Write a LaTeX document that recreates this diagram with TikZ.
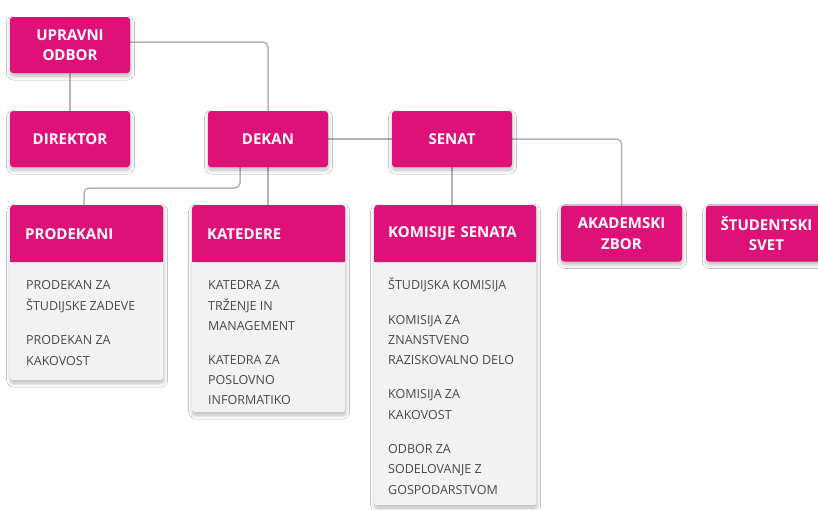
\documentclass[tikz,border=0pt]{standalone}
\usepackage{fontspec}
\setmainfont{Open Sans}
\usetikzlibrary{shadows.blur,backgrounds,calc}
\definecolor{mag}{RGB}{222,17,121}
\definecolor{panel}{RGB}{242,242,242}
\definecolor{connc}{RGB}{180,180,180}
\definecolor{bodytxt}{RGB}{72,72,72}
\newcommand{\firststrut}{\rule{0pt}{15pt}}
\begin{document}
\begin{tikzpicture}[x=1pt,y=-1pt,
  shad/.style={blur shadow={shadow xshift=0.5pt,shadow yshift=-3pt,shadow blur radius=4pt,shadow blur steps=8,shadow opacity=28}},
  unitbox/.style={fill=mag, rounded corners=3pt, text=white,
    font=\fontsize{15}{20.5}\selectfont\bfseries, align=center,
    inner sep=0pt, minimum width=120pt, minimum height=56pt, shad},
  panelbody/.style={fill=panel, rounded corners=3pt, inner sep=0pt, anchor=north west, shad},
  panelhead/.style={fill=mag, rounded corners=3pt, text=white,
    font=\fontsize{15}{20.5}\selectfont\bfseries, align=left,
    inner xsep=15pt, inner ysep=0pt, minimum height=57pt, anchor=north west},
  bodytext/.style={text=bodytxt, font=\fontsize{12.5}{20.3}\selectfont,
    align=left, inner sep=0pt, anchor=north west},
  connector/.style={draw=connc, line width=1.5pt, rounded corners=5pt}
]
\useasboundingbox (0,0) rectangle (818,509);

% top units
\node[unitbox] (odbor) at (70,45) {UPRAVNI\\ODBOR};
\node[unitbox] (direktor) at (70,139) {DIREKTOR};
\node[unitbox] (dekan) at (268,139) {DEKAN};
\node[unitbox] (senat) at (452,139) {SENAT};
\node[unitbox, minimum width=121pt] (akad) at (621.5,233.5) {AKADEMSKI\\ZBOR};
\node[unitbox, minimum width=121pt] (stud) at (766.5,233.5) {ŠTUDENTSKI\\SVET};

% PRODEKANI panel
\node[panelbody, minimum width=153pt, minimum height=175pt] (prodp) at (10,205) {};
\node[panelhead, text width=123pt] (prodh) at (10,205) {PRODEKANI};
\fill[mag] ([yshift=4pt]prodh.south west) rectangle (prodh.south east);
\node[bodytext] (prodt) at (26,274.5)
  {\firststrut PRODEKAN ZA\\ŠTUDIJSKE ZADEVE\\[14.5pt]PRODEKAN ZA\\KAKOVOST};

% KATEDERE panel
\node[panelbody, minimum width=153pt, minimum height=207pt] (katp) at (192,205) {};
\node[panelhead, text width=123pt] (kath) at (192,205) {KATEDERE};
\fill[mag] ([yshift=4pt]kath.south west) rectangle (kath.south east);
\node[bodytext] (katt) at (208,274.5)
  {\firststrut KATEDRA ZA\\TRŽENJE IN\\MANAGEMENT\\[13.5pt]KATEDRA ZA\\POSLOVNO\\INFORMATIKO};

% KOMISIJE SENATA panel
\node[panelbody, minimum width=162pt, minimum height=300pt] (komp) at (374,205) {};
\node[panelhead, inner xsep=14pt, text width=134pt] (komh) at (374,205) {KOMISIJE SENATA};
\fill[mag] ([yshift=4pt]komh.south west) rectangle (komh.south east);
\node[bodytext] (komt) at (388,274.5)
  {\firststrut ŠTUDIJSKA KOMISIJA\\[14pt]KOMISIJA ZA\\ZNANSTVENO\\RAZISKOVALNO DELO\\[14pt]KOMISIJA ZA\\KAKOVOST\\[14pt]ODBOR ZA\\SODELOVANJE Z\\GOSPODARSTVOM};

% connectors
\coordinate (pk) at (84,188);
\begin{scope}[on background layer]
  \fill[white] (0,0) rectangle (818,509);
  \draw[connector] ([yshift=3pt]odbor.east) -| (dekan.north);
  \draw[connector] (odbor.south) -- (direktor.north);
  \draw[connector] (dekan.east) -- (senat.west);
  \draw[connector] (senat.east) -| (akad.north);
  \draw[connector] ([xshift=-28pt]dekan.south) |- (pk) -- (pk |- prodh.north);
  \draw[connector] (dekan.south) -- (kath.north -| dekan.south);
  \draw[connector] (senat.south) -- (komh.north -| senat.south);
\end{scope}
\end{tikzpicture}
\end{document}
